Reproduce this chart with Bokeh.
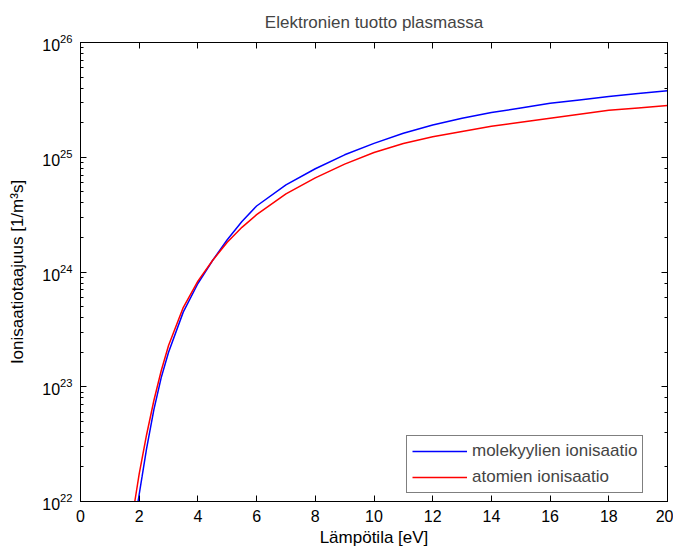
from bokeh.plotting import figure
from bokeh.models import (Range1d, LogAxis, LinearAxis, FixedTicker,
                          CustomJSTickFormatter)
from bokeh.embed import file_html
from bokeh.resources import INLINE

# Ionisation rate of molecules vs. electron temperature [eV]
temp_molecules = [1.96, 2.1, 2.25, 2.5, 2.75, 3.0, 3.5, 4.0, 4.5, 5.0, 5.5,
                  6, 7, 8, 9, 10, 11, 12, 13, 14, 15, 16, 17, 18, 19, 20]
rate_molecules = [1.00e22, 1.66e22, 2.88e22, 6.31e22, 1.20e23, 2.00e23,
                  4.47e23, 7.94e23, 1.26e24, 1.91e24, 2.75e24, 3.76e24,
                  5.75e24, 7.94e24, 1.05e25, 1.32e25, 1.62e25, 1.91e25,
                  2.19e25, 2.45e25, 2.69e25, 2.95e25, 3.16e25, 3.39e25,
                  3.59e25, 3.80e25]

# Ionisation rate of atoms vs. electron temperature [eV]
temp_atoms = [1.85, 2.0, 2.25, 2.5, 2.75, 3.0, 3.5, 4.0, 4.5, 5.0, 5.5,
              6, 7, 8, 9, 10, 11, 12, 13, 14, 15, 16, 17, 18, 19, 20]
rate_atoms = [1.00e22, 1.74e22, 3.80e22, 7.59e22, 1.38e23, 2.29e23,
              4.90e23, 8.32e23, 1.26e24, 1.82e24, 2.45e24, 3.16e24,
              4.79e24, 6.61e24, 8.71e24, 1.10e25, 1.32e25, 1.51e25,
              1.68e25, 1.86e25, 2.02e25, 2.19e25, 2.37e25, 2.57e25,
              2.69e25, 2.82e25]

x_ticks = [0, 2, 4, 6, 8, 10, 12, 14, 16, 18, 20]

FONT = "Liberation Sans"

p = figure(width=673, height=549,
           x_range=Range1d(0, 20), y_range=Range1d(1e22, 1e26),
           y_axis_type="log",
           title="Elektronien tuotto plasmassa",
           output_backend="svg", toolbar_location=None,
           min_border_left=80, min_border_right=6,
           min_border_top=42, min_border_bottom=47)

p.background_fill_color = "white"
p.border_fill_color = "white"
p.outline_line_color = "black"
p.outline_line_width = 1
p.grid.visible = False

p.title.align = "center"
p.title.vertical_align = "bottom"
p.title.text_font = FONT
p.title.text_font_size = "17px"
p.title.text_font_style = "normal"
p.title.standoff = 21

p.line(temp_molecules, rate_molecules, color="#0000ff", line_width=1.5,
       legend_label="molekyylien ionisaatio")
p.line(temp_atoms, rate_atoms, color="#ff0000", line_width=1.5,
       legend_label="atomien ionisaatio")


def style_axis(ax, minor):
    ax.axis_line_color = "black"
    ax.major_tick_line_color = "black"
    ax.major_tick_in = 6
    ax.major_tick_out = 0
    if minor:
        ax.minor_tick_line_color = "black"
        ax.minor_tick_in = 3
        ax.minor_tick_out = 0
    else:
        ax.minor_tick_line_color = None
    ax.major_label_text_font = FONT
    ax.major_label_text_font_size = "16px"
    ax.major_label_text_color = "black"
    ax.axis_label_text_font = FONT
    ax.axis_label_text_font_size = "17px"
    ax.axis_label_text_font_style = "normal"
    ax.axis_label_text_color = "black"


xax = p.xaxis[0]
xax.ticker = FixedTicker(ticks=x_ticks)
xax.axis_label = "Lämpötila [eV]"
style_axis(xax, minor=False)
xax.major_label_standoff = 8
xax.axis_label_standoff = 3

yax = p.yaxis[0]
yax.axis_label = "Ionisaatiotaajuus [1/m³s]"
style_axis(yax, minor=True)
yax.major_label_standoff = 8
yax.axis_label_standoff = 12

blank = CustomJSTickFormatter(code="return ''")

top = LinearAxis(ticker=FixedTicker(ticks=x_ticks), formatter=blank)
style_axis(top, minor=False)
top.major_label_standoff = 0
top.major_label_text_font_size = "0px"
p.add_layout(top, "above")

right = LogAxis(formatter=blank)
style_axis(right, minor=True)
right.major_label_standoff = 0
right.major_label_text_font_size = "0px"
p.add_layout(right, "right")

leg = p.legend[0]
leg.location = (326, 8)
leg.border_line_color = "black"
leg.border_line_width = 1
leg.background_fill_color = "white"
leg.background_fill_alpha = 1
leg.label_text_font = FONT
leg.label_text_font_size = "17px"
leg.glyph_width = 55
leg.glyph_height = 20
leg.label_height = 20
leg.label_standoff = 5
leg.padding = 5
leg.spacing = 6
leg.margin = 0

open("out.html", "w").write(file_html(p, INLINE))
